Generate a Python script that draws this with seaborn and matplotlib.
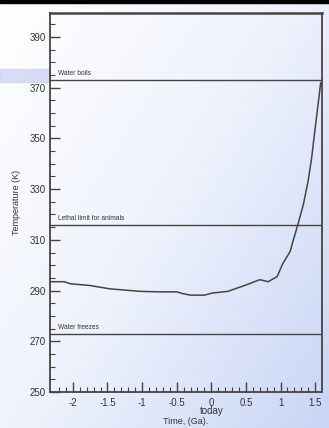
import numpy as np
import pandas as pd
import matplotlib
matplotlib.use('Agg')
import matplotlib.pyplot as plt
from matplotlib.colors import LinearSegmentedColormap
import seaborn as sns

# Temperature history
time_ga = [-2.33, -2.12, -2.04, -1.75, -1.47, -1.03, -0.75, -0.50, -0.41, -0.30,
           -0.10, 0.01, 0.24, 0.51, 0.70, 0.82, 0.95, 1.03, 1.14, 1.18, 1.25,
           1.33, 1.40, 1.45, 1.50, 1.545, 1.58]
temp_k = [293.5, 293.5, 292.7, 292.0, 290.7, 289.7, 289.5, 289.5, 288.8, 288.2,
          288.2, 289.0, 289.7, 292.3, 294.3, 293.5, 295.5, 300.5, 305.5, 309.5, 316.0,
          324.0, 333.5, 342.5, 354.0, 364.0, 372.0]

limit_names = ['Water boils', 'Lethal limit for animals', 'Water freezes']
limit_temps = [373, 316, 273]

x_ticks = [-2, -1.5, -1, -0.5, 0, 0.5, 1, 1.5]
x_tick_labels = ['-2', '-1.5', '-1', '-0.5', '0\ntoday', '0.5', '1', '1.5']
y_ticks = [250, 270, 290, 310, 330, 350, 370, 390]

sns.set_style('ticks')
plt.rcParams['font.family'] = ['Liberation Sans', 'DejaVu Sans']

line_col = '#4a4242'

fig = plt.figure(figsize=(3.29, 4.28), dpi=100)

# washed-out blue gradient behind everything, like the scan
bg = fig.add_axes([0, 0, 1, 1], zorder=-2)
gx, gy = np.meshgrid(np.linspace(0, 1, 200), np.linspace(0, 1, 200))
grad = 0.55 * gx + 0.45 * gy
cmap = LinearSegmentedColormap.from_list('bg', ['#ffffff', '#eef2fc', '#c9d5f6'])
bg.imshow(grad, cmap=cmap, aspect='auto', extent=[0, 1, 0, 1], origin='upper')
bg.fill_between([0, 1], 0.993, 1.0, color='black')
bg.fill_between([0, 0.152], 0.808, 0.838, color='#c8d0f0', alpha=0.7)
bg.set_xlim(0, 1)
bg.set_ylim(0, 1)
bg.axis('off')

ax = fig.add_axes([0.152, 0.084, 0.827, 0.886])
ax.patch.set_alpha(0)

df = pd.DataFrame({'time': time_ga, 'temp': temp_k})
sns.lineplot(data=df, x='time', y='temp', ax=ax, color=line_col, lw=1.1)

for name, t in zip(limit_names, limit_temps):
    ax.axhline(t, color=line_col, lw=1.0)
    ax.text(-2.22, t + 1.2, name, fontsize=4.8, color='#333333', va='bottom', ha='left')

ax.set_xlim(-2.33, 1.6)
ax.set_ylim(250, 399.5)
ax.set_xticks(x_ticks)
ax.set_xticklabels(x_tick_labels, fontsize=7, color='#333333', linespacing=0.8)
ax.set_xticks(np.arange(-2.2, 1.55, 0.1), minor=True)
ax.set_yticks(y_ticks)
ax.set_yticklabels([str(v) for v in y_ticks], fontsize=7, color='#333333')
ax.set_yticks(np.arange(250, 400, 5), minor=True)
ax.tick_params(axis='both', which='major', direction='in', length=7, width=1, color=line_col, pad=3)
ax.tick_params(axis='both', which='minor', direction='in', length=3.5, width=0.8, color=line_col)
ax.tick_params(axis='x', which='both', top=False, pad=4)

for s in ax.spines.values():
    s.set_color(line_col)
    s.set_linewidth(1.3)
ax.spines['top'].set_linewidth(1.8)

ax.set_xlabel('Time, (Ga).', fontsize=6.5, color='#333333', labelpad=1)
ax.set_ylabel('Temperature (K)', fontsize=6.5, color='#333333', labelpad=6)

fig.savefig('out.png', dpi=100)
